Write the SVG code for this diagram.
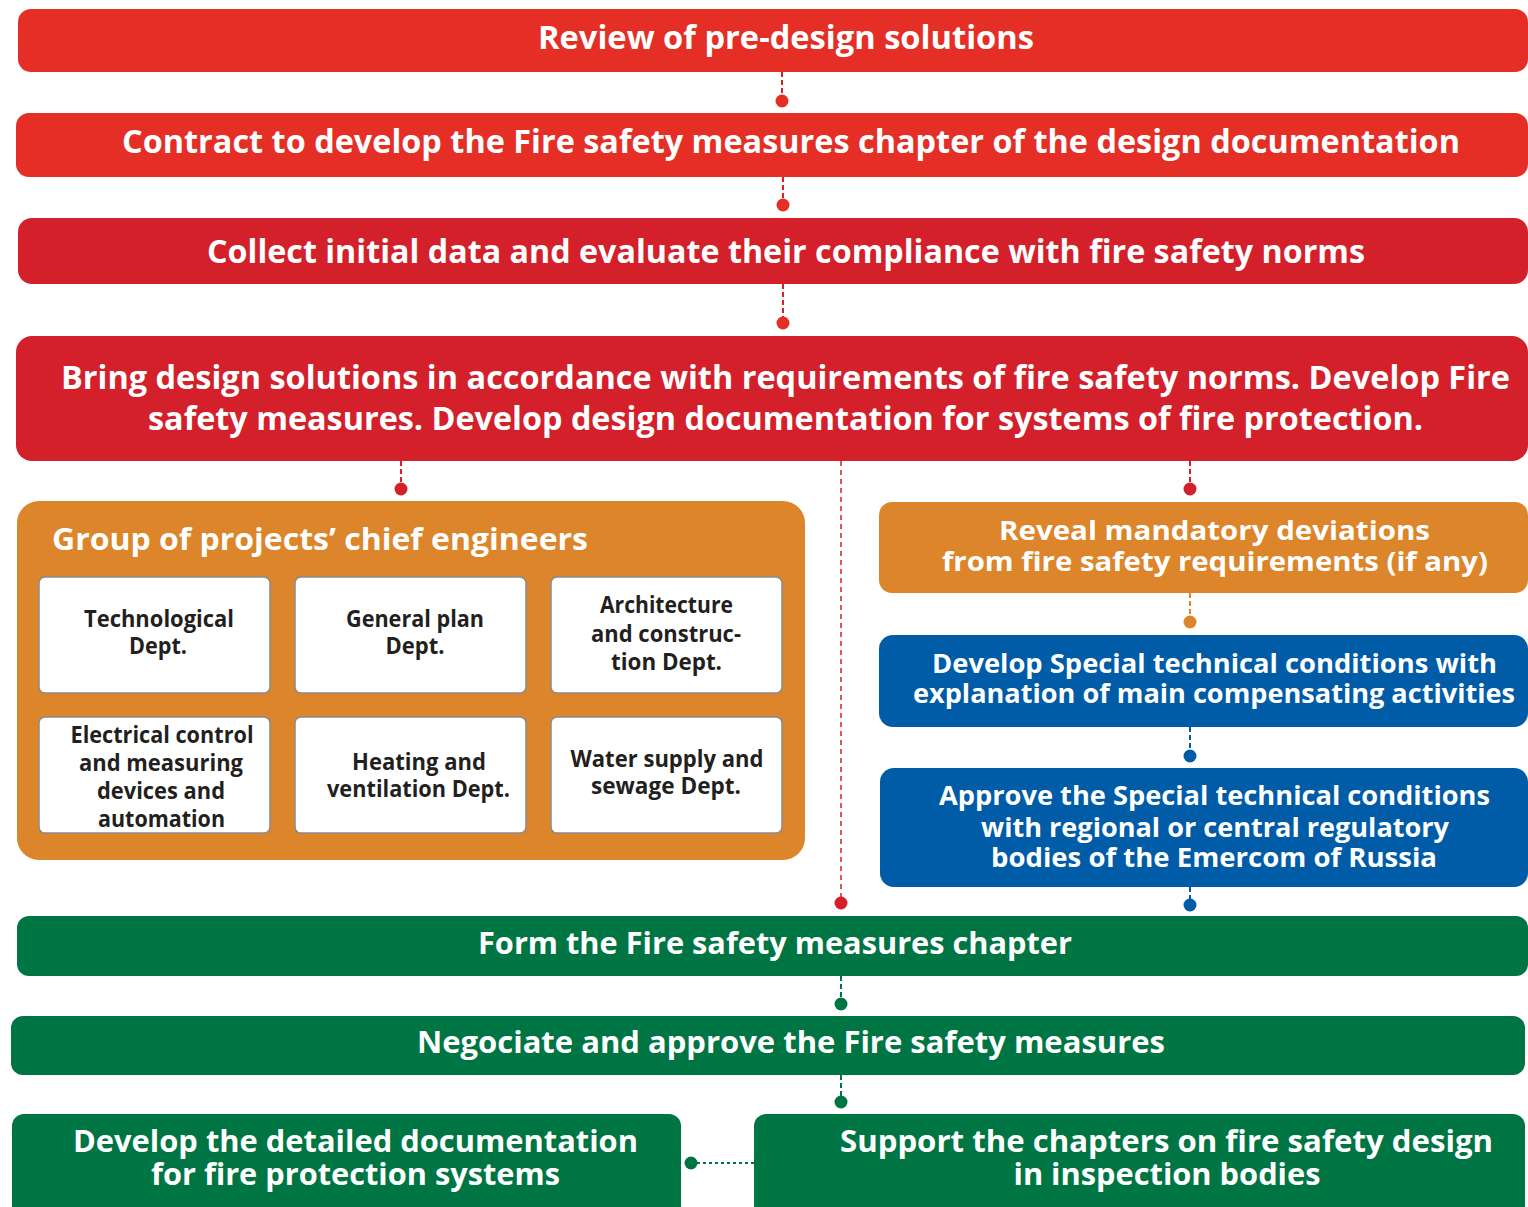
<svg xmlns="http://www.w3.org/2000/svg" width="1528" height="1207" viewBox="0 0 1528 1207">
<style>
  .t{font-family:"Open Sans","Noto Sans","Liberation Sans",sans-serif;font-weight:700;fill:#fff;text-anchor:middle}
  .d{font-family:"Open Sans","Noto Sans","Liberation Sans",sans-serif;font-weight:700;fill:#231f20;text-anchor:middle;font-size:22.5px}
  .red1{fill:#e42e26}
  .red2{fill:#d4202a}
  .org{fill:#dc852a}
  .blu{fill:#005ca7}
  .grn{fill:#007544}
  .dept{fill:#fff;stroke:#8a8a8a;stroke-width:1.5}
  .cr{stroke:#d4202a;stroke-width:2;stroke-dasharray:5 3;fill:none}
  .co{stroke:#dc852a;stroke-width:2;stroke-dasharray:5 3;fill:none}
  .cb{stroke:#005ca7;stroke-width:2;stroke-dasharray:5 3;fill:none}
  .cg{stroke:#007544;stroke-width:2;stroke-dasharray:5 3;fill:none}
</style>
<rect width="1528" height="1207" fill="#fff"/>

<g id="connectors">
  <line class="cr" x1="782" y1="72" x2="782" y2="97"/><circle cx="782" cy="101" r="6.5" fill="#e42e26"/>
  <line class="cr" x1="783" y1="177" x2="783" y2="201"/><circle cx="783" cy="205" r="6.5" fill="#e42e26"/>
  <line class="cr" x1="783" y1="284" x2="783" y2="319"/><circle cx="783" cy="323" r="6.5" fill="#e42e26"/>
  <line class="cr" x1="401" y1="461" x2="401" y2="485"/><circle cx="401" cy="489" r="6.5" fill="#d4202a"/>
  <line class="cr" x1="1190" y1="461" x2="1190" y2="485"/><circle cx="1190" cy="489" r="6.5" fill="#d4202a"/>
  <line class="cr" x1="841" y1="461" x2="841" y2="899" style="stroke-width:1.5;stroke-dasharray:5 4"/><circle cx="841" cy="903" r="6.5" fill="#d4202a"/>
  <line class="co" x1="1190" y1="593" x2="1190" y2="618"/><circle cx="1190" cy="622" r="6.5" fill="#dc852a"/>
  <line class="cb" x1="1190" y1="727" x2="1190" y2="752"/><circle cx="1190" cy="756" r="6.5" fill="#005ca7"/>
  <line class="cb" x1="1190" y1="887" x2="1190" y2="901"/><circle cx="1190" cy="905" r="6.5" fill="#005ca7"/>
  <line class="cg" x1="841" y1="976" x2="841" y2="1000"/><circle cx="841" cy="1004" r="6.5" fill="#007544"/>
  <line class="cg" x1="841" y1="1075" x2="841" y2="1098"/><circle cx="841" cy="1102" r="6.5" fill="#007544"/>
  <line class="cg" x1="754" y1="1163" x2="695" y2="1163" style="stroke-dasharray:3 3"/><circle cx="691" cy="1163" r="6.5" fill="#007544"/>
</g>

<g id="review">
  <rect class="red1" x="18" y="9" width="1510" height="63" rx="13"/>
  <text class="t" x="786" y="49" font-size="32" textLength="496" lengthAdjust="spacingAndGlyphs">Review of pre-design solutions</text>
</g>
<g id="contract">
  <rect class="red1" x="16" y="113" width="1512" height="64" rx="13"/>
  <text class="t" x="791" y="153" font-size="32" textLength="1338" lengthAdjust="spacingAndGlyphs">Contract to develop the Fire safety measures chapter of the design documentation</text>
</g>
<g id="collect">
  <rect class="red2" x="18" y="218" width="1510" height="66" rx="14"/>
  <text class="t" x="786" y="263" font-size="32" textLength="1158" lengthAdjust="spacingAndGlyphs">Collect initial data and evaluate their compliance with fire safety norms</text>
</g>
<g id="bring">
  <rect class="red2" x="16" y="336" width="1512" height="125" rx="16"/>
  <text class="t" x="785.5" y="389" font-size="32" textLength="1449" lengthAdjust="spacingAndGlyphs">Bring design solutions in accordance with requirements of fire safety norms. Develop Fire</text>
  <text class="t" x="785.5" y="430" font-size="32" textLength="1275" lengthAdjust="spacingAndGlyphs">safety measures. Develop design documentation for systems of fire protection.</text>
</g>

<g id="group">
  <rect class="org" x="17" y="501" width="788" height="359" rx="22"/>
  <text class="t" x="52" y="550" font-size="30" style="text-anchor:start" textLength="536" lengthAdjust="spacingAndGlyphs">Group of projects’ chief engineers</text>
</g>
<g id="tech">
  <rect class="dept" x="39" y="577" width="231" height="116" rx="6"/>
  <text class="d" x="159" y="627" textLength="150" lengthAdjust="spacingAndGlyphs">Technological</text>
  <text class="d" x="158" y="654" textLength="58" lengthAdjust="spacingAndGlyphs">Dept.</text>
</g>
<g id="genplan">
  <rect class="dept" x="295" y="577" width="231" height="116" rx="6"/>
  <text class="d" x="415" y="627" textLength="138" lengthAdjust="spacingAndGlyphs">General plan</text>
  <text class="d" x="415" y="654" textLength="59" lengthAdjust="spacingAndGlyphs">Dept.</text>
</g>
<g id="arch">
  <rect class="dept" x="551" y="577" width="231" height="116" rx="6"/>
  <text class="d" x="666.5" y="613" textLength="133" lengthAdjust="spacingAndGlyphs">Architecture</text>
  <text class="d" x="666" y="642" textLength="150" lengthAdjust="spacingAndGlyphs">and construc-</text>
  <text class="d" x="666.5" y="670" textLength="111" lengthAdjust="spacingAndGlyphs">tion Dept.</text>
</g>
<g id="elec">
  <rect class="dept" x="39" y="717" width="231" height="116" rx="6"/>
  <text class="d" x="162" y="743" textLength="183" lengthAdjust="spacingAndGlyphs">Electrical control</text>
  <text class="d" x="161" y="771" textLength="164" lengthAdjust="spacingAndGlyphs">and measuring</text>
  <text class="d" x="161" y="799" textLength="128" lengthAdjust="spacingAndGlyphs">devices and</text>
  <text class="d" x="161.5" y="827" textLength="127" lengthAdjust="spacingAndGlyphs">automation</text>
</g>
<g id="heat">
  <rect class="dept" x="295" y="717" width="231" height="116" rx="6"/>
  <text class="d" x="419" y="770" textLength="134" lengthAdjust="spacingAndGlyphs">Heating and</text>
  <text class="d" x="418.5" y="797" textLength="183" lengthAdjust="spacingAndGlyphs">ventilation Dept.</text>
</g>
<g id="water">
  <rect class="dept" x="551" y="717" width="231" height="116" rx="6"/>
  <text class="d" x="667" y="767" textLength="193" lengthAdjust="spacingAndGlyphs">Water supply and</text>
  <text class="d" x="666" y="794" textLength="150" lengthAdjust="spacingAndGlyphs">sewage Dept.</text>
</g>

<g id="reveal">
  <rect class="org" x="879" y="502" width="649" height="91" rx="13"/>
  <text class="t" x="1214.5" y="540" font-size="27.5" textLength="431" lengthAdjust="spacingAndGlyphs">Reveal mandatory deviations</text>
  <text class="t" x="1215" y="571" font-size="27.5" textLength="546" lengthAdjust="spacingAndGlyphs">from fire safety requirements (if any)</text>
</g>
<g id="develop-stc">
  <rect class="blu" x="879" y="635" width="649" height="92" rx="14"/>
  <text class="t" x="1214.5" y="673" font-size="27.5" textLength="565" lengthAdjust="spacingAndGlyphs">Develop Special technical conditions with</text>
  <text class="t" x="1214" y="703" font-size="27.5" textLength="602" lengthAdjust="spacingAndGlyphs">explanation of main compensating activities</text>
</g>
<g id="approve-stc">
  <rect class="blu" x="880" y="768" width="648" height="119" rx="14"/>
  <text class="t" x="1214.5" y="805" font-size="27.5" textLength="551" lengthAdjust="spacingAndGlyphs">Approve the Special technical conditions</text>
  <text class="t" x="1215" y="837" font-size="27.5" textLength="468" lengthAdjust="spacingAndGlyphs">with regional or central regulatory</text>
  <text class="t" x="1214" y="867" font-size="27.5" textLength="446" lengthAdjust="spacingAndGlyphs">bodies of the Emercom of Russia</text>
</g>

<g id="form">
  <rect class="grn" x="17" y="916" width="1511" height="60" rx="12"/>
  <text class="t" x="775" y="954" font-size="30" textLength="594" lengthAdjust="spacingAndGlyphs">Form the Fire safety measures chapter</text>
</g>
<g id="negociate">
  <rect class="grn" x="11" y="1016" width="1514" height="59" rx="12"/>
  <text class="t" x="791" y="1053" font-size="30" textLength="748" lengthAdjust="spacingAndGlyphs">Negociate and approve the Fire safety measures</text>
</g>
<g id="detailed">
  <rect class="grn" x="12" y="1114" width="669" height="110" rx="12"/>
  <text class="t" x="355.5" y="1152" font-size="31" textLength="565" lengthAdjust="spacingAndGlyphs">Develop the detailed documentation</text>
  <text class="t" x="355.5" y="1185" font-size="31" textLength="409" lengthAdjust="spacingAndGlyphs">for fire protection systems</text>
</g>
<g id="support">
  <rect class="grn" x="754" y="1114" width="771" height="110" rx="12"/>
  <text class="t" x="1166.5" y="1152" font-size="31" textLength="653" lengthAdjust="spacingAndGlyphs">Support the chapters on fire safety design</text>
  <text class="t" x="1167" y="1185" font-size="31" textLength="307" lengthAdjust="spacingAndGlyphs">in inspection bodies</text>
</g>
</svg>
